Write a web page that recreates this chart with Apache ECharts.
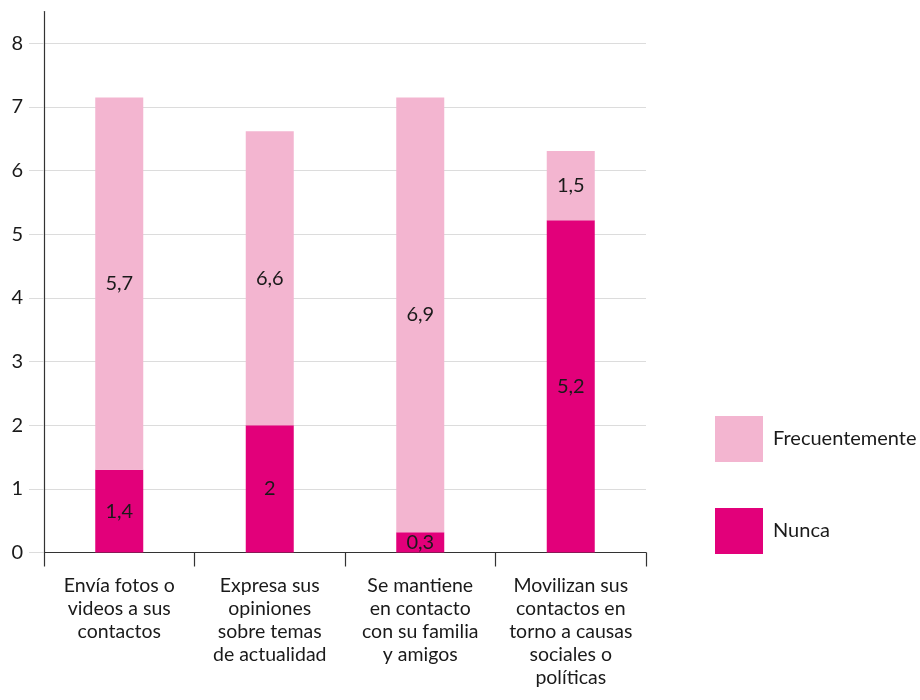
<!DOCTYPE html>
<html>
<head>
<meta charset="utf-8">
<script src="https://cdn.jsdelivr.net/npm/echarts@6/dist/echarts.min.js"></script>
<style>
html,body{margin:0;padding:0;background:#fff;}
#chart{width:920px;height:700px;}
</style>
</head>
<body>
<div id="chart"></div>
<script>
const categories = [
  "Envía fotos o\nvideos a sus\ncontactos",
  "Expresa sus\nopiniones\nsobre temas\nde actualidad",
  "Se mantiene\nen contacto\ncon su familia\ny amigos",
  "Movilizan sus\ncontactos en\ntorno a causas\nsociales o\npolíticas"
];
const seriesNames = ["Nunca", "Frecuentemente"];
const nuncaValues = [1.30, 2.00, 0.32, 5.22];
const frecuenteValues = [5.85, 4.62, 6.83, 1.09];
const nuncaLabels = ["1,4", "2", "0,3", "5,2"];
const frecuenteLabels = ["5,7", "6,6", "6,9", "1,5"];
const yTicks = [0, 1, 2, 3, 4, 5, 6, 7, 8];

const FONT = "Lato";
const chart = echarts.init(document.getElementById('chart'), null, {renderer: 'canvas'});

function mkSeries(name, values, labels, color) {
  return {
    name: name,
    type: 'bar',
    stack: 'total',
    barWidth: 48,
    itemStyle: {color: color},
    label: {
      show: true,
      position: 'inside',
      color: '#1a1a1a',
      fontFamily: FONT,
      fontSize: 20,
      formatter: function (p) { return labels[p.dataIndex]; }
    },
    emphasis: {disabled: true},
    data: values
  };
}

chart.setOption({
  animation: false,
  textStyle: {fontFamily: FONT},
  grid: {left: 44, right: 274, top: 11.5, bottom: 147.5, containLabel: false},
  legend: {
    orient: 'vertical',
    left: 715,
    top: 416,
    itemWidth: 48,
    itemHeight: 46,
    itemGap: 46,
    icon: 'rect',
    padding: 0,
    data: [seriesNames[1], seriesNames[0]],
    textStyle: {fontFamily: FONT, fontSize: 20, color: '#1a1a1a', padding: [0, 0, 0, 5]}
  },
  xAxis: {
    type: 'category',
    data: categories,
    axisLine: {lineStyle: {color: '#333', width: 1.2}},
    axisTick: {show: true, length: 14, alignWithLabel: false, lineStyle: {color: '#333', width: 1.2}},
    axisLabel: {
      interval: 0,
      margin: 22,
      fontFamily: FONT,
      fontSize: 19.5,
      lineHeight: 23,
      color: '#1a1a1a',
      align: 'center'
    }
  },
  yAxis: {
    type: 'value',
    min: yTicks[0],
    max: 8.5,
    interval: 1,
    axisLine: {show: true, lineStyle: {color: '#333', width: 1.2}},
    axisTick: {show: true, length: 15, lineStyle: {color: '#dcdcdc'}},
    axisLabel: {
      margin: 21,
      fontFamily: FONT,
      fontSize: 20,
      color: '#1a1a1a',
      showMaxLabel: false,
      formatter: function (v) { return yTicks.indexOf(v) >= 0 ? String(v) : ''; }
    },
    splitLine: {show: true, showMaxLine: false, lineStyle: {color: '#dcdcdc', width: 1}}
  },
  series: [
    mkSeries(seriesNames[0], nuncaValues, nuncaLabels, '#E2007A'),
    mkSeries(seriesNames[1], frecuenteValues, frecuenteLabels, '#F3B5D0')
  ]
});
</script>
</body>
</html>
